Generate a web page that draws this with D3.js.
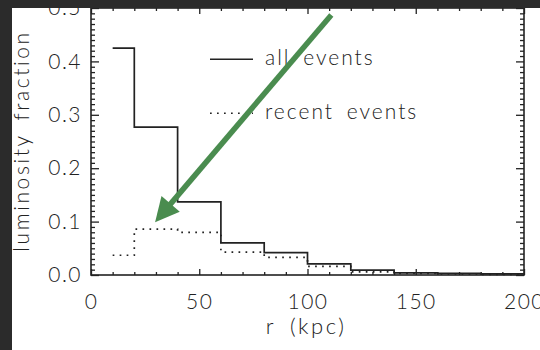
<!DOCTYPE html>
<html><head><meta charset="utf-8">
<script src="https://cdn.jsdelivr.net/npm/d3@7"></script>
<style>
html,body{margin:0;padding:0;background:#fff;}
svg{display:block;}
text{font-family:Lato,"Open Sans",sans-serif;font-weight:300;fill:#222;}
</style></head><body>
<svg id="c" width="540" height="350"></svg>
<script>
const binEdges = [10,20,40,60,80,100,120,140,160,180,200];
const allEvents = [0.425,0.277,0.137,0.060,0.042,0.021,0.009,0.004,0.003,0.002];
const recentEvents = [0.037,0.086,0.080,0.043,0.033,0.016,0.006,0.003,0.002,0.001];
const xMajor = [0,50,100,150,200];
const yMajor = [0,0.1,0.2,0.3,0.4,0.5];
const legendLabels = ["all events","recent events"];
const arrowFrom = [111,0.487];
const arrowTo = [29.6,0.099];

const svg = d3.select("#c");
const x = d3.scaleLinear().domain([0,200]).range([91,524]);
const y = d3.scaleLinear().domain([0,0.5]).range([275,8]);
const ink = "#222";

const xMinor = d3.range(0,201,10).filter(v=>v%50!==0);
const yMinor = d3.range(0,51,1).map(v=>v/100).filter(v=>Math.round(v*100)%10!==0);

function styleAxis(g){ g.select(".domain").remove(); g.selectAll("line").attr("stroke",ink).attr("stroke-width",1.3); }
function styleText(g){ g.selectAll("text").attr("font-size",21).attr("letter-spacing",1.5).attr("fill",ink).style("font-family","Lato,sans-serif").style("font-weight",300); }

// frame
svg.append("rect").attr("x",x(0)).attr("y",y(0.5)).attr("width",x(200)-x(0)).attr("height",y(0)-y(0.5))
  .attr("fill","none").attr("stroke",ink).attr("stroke-width",1.6);

// bottom
svg.append("g").attr("transform",`translate(0,${y(0)})`)
  .call(d3.axisBottom(x).tickValues(xMajor).tickSizeInner(-6).tickSizeOuter(0).tickPadding(19).tickFormat(d3.format("d")))
  .call(styleAxis).call(styleText);
svg.append("g").attr("transform",`translate(0,${y(0)})`)
  .call(d3.axisBottom(x).tickValues(xMinor).tickSizeInner(-3).tickSizeOuter(0).tickFormat(""))
  .call(styleAxis);
// top
svg.append("g").attr("transform",`translate(0,${y(0.5)})`)
  .call(d3.axisTop(x).tickValues(xMajor).tickSizeInner(-6).tickSizeOuter(0).tickFormat("")).call(styleAxis);
svg.append("g").attr("transform",`translate(0,${y(0.5)})`)
  .call(d3.axisTop(x).tickValues(xMinor).tickSizeInner(-3).tickSizeOuter(0).tickFormat("")).call(styleAxis);
// left
svg.append("g").attr("transform",`translate(${x(0)},0)`)
  .call(d3.axisLeft(y).tickValues(yMajor).tickSizeInner(-8).tickSizeOuter(0).tickPadding(9).tickFormat(d3.format(".1f")))
  .call(styleAxis).call(styleText);
svg.append("g").attr("transform",`translate(${x(0)},0)`)
  .call(d3.axisLeft(y).tickValues(yMinor).tickSizeInner(-4).tickSizeOuter(0).tickFormat("")).call(styleAxis);
// right
svg.append("g").attr("transform",`translate(${x(200)},0)`)
  .call(d3.axisRight(y).tickValues(yMajor).tickSizeInner(-8).tickSizeOuter(0).tickFormat("")).call(styleAxis);
svg.append("g").attr("transform",`translate(${x(200)},0)`)
  .call(d3.axisRight(y).tickValues(yMinor).tickSizeInner(-4).tickSizeOuter(0).tickFormat("")).call(styleAxis);

// histograms
function stepPts(vals){ const p = vals.map((v,i)=>[binEdges[i],v]); p.push([binEdges[binEdges.length-1],vals[vals.length-1]]); return p; }
const line = d3.line().x(d=>x(d[0])).y(d=>y(d[1])).curve(d3.curveStepAfter);
svg.append("path").attr("d",line(stepPts(allEvents))).attr("fill","none").attr("stroke",ink).attr("stroke-width",1.7);
svg.append("path").attr("d",line(stepPts(recentEvents))).attr("fill","none").attr("stroke",ink).attr("stroke-width",1.7).attr("stroke-dasharray","1.7,5.3");

// legend
const leg = [[0.404,null,legendLabels[0]],[0.303,"1.7,5.3",legendLabels[1]]];
leg.forEach(([yv,dash,label])=>{
  svg.append("line").attr("x1",210).attr("x2",253).attr("y1",y(yv)).attr("y2",y(yv)).attr("stroke",ink).attr("stroke-width",1.6).attr("stroke-dasharray",dash);
  svg.append("text").attr("x",265).attr("y",y(yv)+1).attr("font-size",21).attr("letter-spacing",2).attr("word-spacing",5).attr("dominant-baseline","middle").text(label);
});

// axis titles
svg.append("text").attr("x",306).attr("y",334).attr("text-anchor","middle").attr("font-size",22).attr("letter-spacing",2.5).attr("word-spacing",6).text("r (kpc)");
svg.append("text").attr("transform","translate(29,141) rotate(-90)").attr("text-anchor","middle").attr("font-size",21).attr("letter-spacing",2.6).attr("word-spacing",5).text("luminosity fraction");

// arrow
const ax0=x(arrowFrom[0]), ay0=y(arrowFrom[1]), ax1=x(arrowTo[0]), ay1=y(arrowTo[1]);
const dx=ax1-ax0, dy=ay1-ay0, L=Math.hypot(dx,dy), ux=dx/L, uy=dy/L, headLen=24, headW=12;
const bx=ax1-ux*headLen, by=ay1-uy*headLen;
const green="#4a8c4f";
svg.append("line").attr("x1",ax0).attr("y1",ay0).attr("x2",bx+ux*2).attr("y2",by+uy*2).attr("stroke",green).attr("stroke-width",5.5);
svg.append("path").attr("d",`M${ax1},${ay1}L${bx-uy*headW},${by+ux*headW}L${bx+uy*headW},${by-ux*headW}Z`).attr("fill",green);

// dark frame bands
svg.append("rect").attr("x",0).attr("y",0).attr("width",540).attr("height",8).attr("fill","#2b2b2b");
svg.append("rect").attr("x",0).attr("y",0).attr("width",12).attr("height",350).attr("fill","#2b2b2b");
</script></body></html>
